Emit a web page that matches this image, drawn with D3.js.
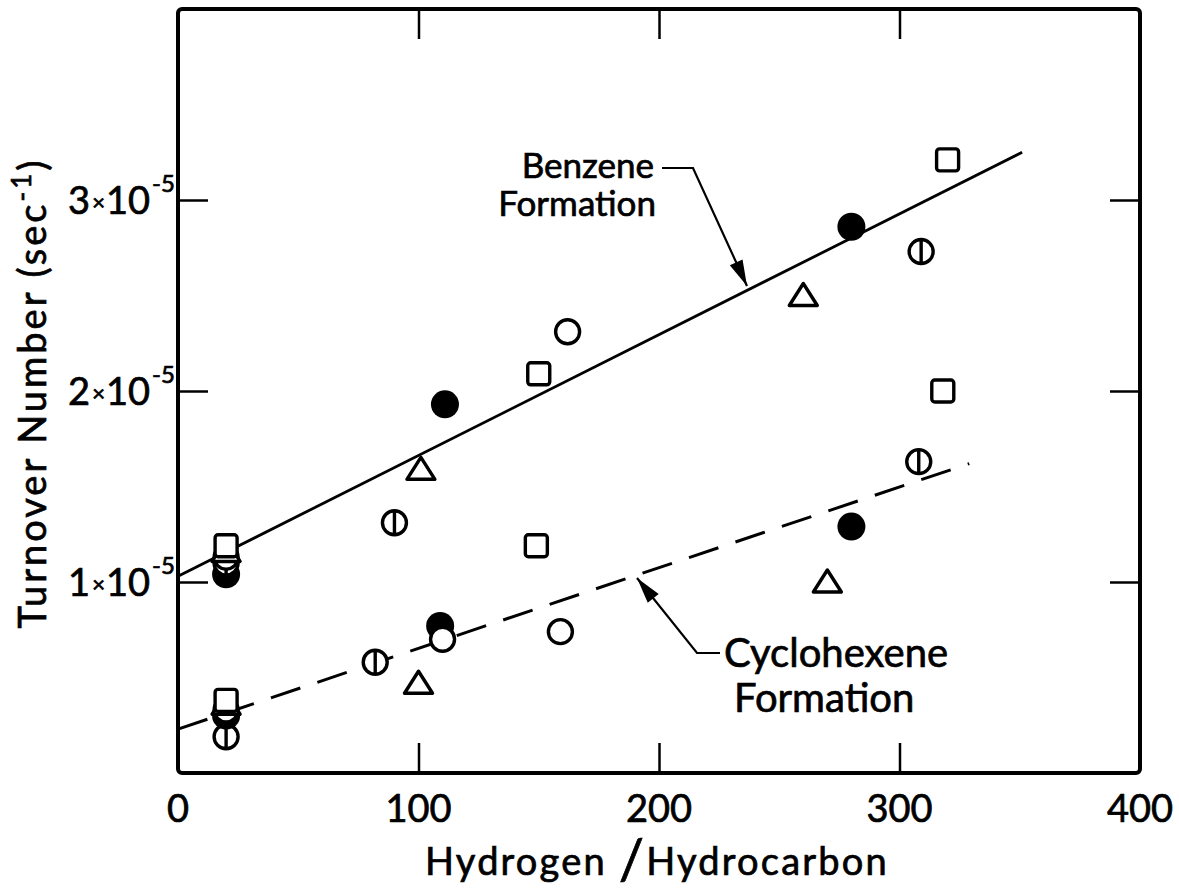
<!DOCTYPE html>
<html>
<head>
<meta charset="utf-8">
<script src="https://cdn.jsdelivr.net/npm/d3@7/dist/d3.min.js"></script>
<style>
  html, body { margin: 0; padding: 0; background: #fff; }
  svg { display: block; }
  text { font-family: "Lato", "DejaVu Sans", sans-serif; fill: #000; stroke: #000; stroke-width: 0.7px; }
</style>
</head>
<body>
<svg id="chart" width="1179" height="892"></svg>
<script>
// Turnover number (units of 1e-5 s^-1) versus hydrogen/hydrocarbon ratio.
// Each marker style is one data set; B = benzene formation, C = cyclohexene formation.
const filledCircleB = [[20, 1.04], [111, 1.93], [280, 2.86]];
const filledCircleC = [[20, 0.30], [109, 0.77], [280, 1.29]];
const openCircleB   = [[20, 1.13], [162, 2.31]];
const openCircleC   = [[20, 0.33], [110, 0.70], [159, 0.74]];
const barCircleB    = [[20, 1.10], [90, 1.31], [309, 2.73]];
const barCircleC    = [[20, 0.19], [82, 0.58], [308, 1.63]];
const squareB       = [[20, 1.19], [150, 2.09], [320, 3.21]];
const squareC       = [[20, 0.38], [149, 1.19], [318, 2.00]];
const triangleB     = [[20, 1.16], [101, 1.59], [260, 2.50]];
const triangleC     = [[20, 0.36], [100, 0.47], [270, 1.00]];

// Straight-line fits drawn through each product's data
const benzeneFit     = [[0, 1.03], [351, 3.25]];
const cyclohexeneFit = [[0, 0.23], [329, 1.62]];

const xTicks = [0, 100, 200, 300, 400];
const yTicks = [1, 2, 3];
const yTickMantissa = ["1", "2", "3"];

const svg = d3.select("#chart");
const x = d3.scaleLinear().domain([0, 400]).range([178, 1140]);
const y = d3.scaleLinear().domain([0, 4]).range([773, 9]);

const ink = "#000";

// Frame
svg.append("rect")
  .attr("x", x(0)).attr("y", y(4))
  .attr("width", x(400) - x(0)).attr("height", y(0) - y(4))
  .attr("rx", 4)
  .attr("fill", "none").attr("stroke", ink).attr("stroke-width", 4);

// Inward ticks on all four sides
const inner = [100, 200, 300];
const tickLen = 30;
function styleAxis(g) {
  g.select(".domain").remove();
  g.selectAll(".tick line").attr("stroke", ink).attr("stroke-width", 2.5);
  g.selectAll(".tick text").remove();
}
svg.append("g").attr("transform", `translate(0,${y(0)})`)
  .call(d3.axisBottom(x).tickValues(inner).tickSize(-tickLen)).call(styleAxis);
svg.append("g").attr("transform", `translate(0,${y(4)})`)
  .call(d3.axisTop(x).tickValues(inner).tickSize(-tickLen)).call(styleAxis);
svg.append("g").attr("transform", `translate(${x(0)},0)`)
  .call(d3.axisLeft(y).tickValues(yTicks).tickSize(-tickLen)).call(styleAxis);
svg.append("g").attr("transform", `translate(${x(400)},0)`)
  .call(d3.axisRight(y).tickValues(yTicks).tickSize(-tickLen)).call(styleAxis);

// X tick labels
svg.append("g").selectAll("text").data(xTicks).join("text")
  .attr("x", d => x(d)).attr("y", 822)
  .attr("text-anchor", "middle")
  .attr("font-size", 38)
  .text(d => d);

// Y tick labels: n x 10 with a raised -5 exponent
const yl = svg.append("g").selectAll("text").data(yTicks).join("text")
  .attr("x", 150).attr("y", d => y(d) + 14)
  .attr("text-anchor", "end")
  .attr("font-size", 38);
yl.append("tspan").text((d, i) => yTickMantissa[i]);
yl.append("tspan").attr("font-size", 22).attr("dx", 2).attr("dy", -4).text("×");
yl.append("tspan").attr("dy", 4).attr("dx", 1).text("10");
svg.append("g").selectAll("text").data(yTicks).join("text")
  .attr("x", 152).attr("y", d => y(d) - 8)
  .attr("font-size", 24)
  .text("-5");

// Axis titles
const yt = svg.append("text")
  .attr("transform", "translate(46,393) rotate(-90)")
  .attr("text-anchor", "middle")
  .attr("font-size", 38)
  .attr("letter-spacing", 3);
yt.append("tspan").text("Turnover Number (sec");
yt.append("tspan").attr("font-size", 26).attr("dy", -15).text("-1");
yt.append("tspan").attr("dy", 15).text(")");

const xt = svg.append("text")
  .attr("x", 657).attr("y", 875)
  .attr("text-anchor", "middle")
  .attr("font-size", 38)
  .attr("letter-spacing", 2.2);
xt.append("tspan").text("Hydrogen ");
xt.append("tspan").attr("font-size", 56).attr("dy", 4).text("/");
xt.append("tspan").attr("dy", -4).text("Hydrocarbon");

// Fitted lines
const line = d3.line().x(d => x(d[0])).y(d => y(d[1]));
svg.append("path").datum(benzeneFit).attr("d", line)
  .attr("fill", "none").attr("stroke", ink).attr("stroke-width", 2.8);
svg.append("path").datum(cyclohexeneFit).attr("d", line)
  .attr("fill", "none").attr("stroke", ink).attr("stroke-width", 3)
  .attr("stroke-dasharray", "31,18");

// Markers
const sw = 3.4;
function drawSet(data, kind) {
  const g = svg.append("g");
  data.forEach(([vx, vy]) => {
    const cx = x(vx), cy = y(vy);
    if (kind === "filled") {
      g.append("circle").attr("cx", cx).attr("cy", cy).attr("r", 14).attr("fill", ink);
    } else if (kind === "open" || kind === "bar") {
      g.append("circle").attr("cx", cx).attr("cy", cy).attr("r", 12)
        .attr("fill", "#fff").attr("stroke", ink).attr("stroke-width", sw);
      if (kind === "bar") {
        g.append("line").attr("x1", cx).attr("x2", cx)
          .attr("y1", cy - 12).attr("y2", cy + 12)
          .attr("stroke", ink).attr("stroke-width", sw);
      }
    } else if (kind === "square") {
      g.append("rect").attr("x", cx - 11).attr("y", cy - 11)
        .attr("width", 22).attr("height", 22).attr("rx", 3)
        .attr("fill", "#fff").attr("stroke", ink).attr("stroke-width", sw);
    } else if (kind === "triangle") {
      g.append("path")
        .attr("d", `M${cx},${cy - 12}L${cx + 14},${cy + 10}L${cx - 14},${cy + 10}Z`)
        .attr("fill", "#fff").attr("stroke", ink).attr("stroke-width", sw)
        .attr("stroke-linejoin", "round");
    }
  });
}
drawSet(barCircleC, "bar");
drawSet(filledCircleC, "filled");
drawSet(openCircleC, "open");
drawSet(triangleC, "triangle");
drawSet(squareC, "square");
drawSet(filledCircleB, "filled");
drawSet(barCircleB, "bar");
drawSet(openCircleB, "open");
drawSet(triangleB, "triangle");
drawSet(squareB, "square");

// Annotations with leader arrows
function arrow(points, tip) {
  svg.append("path").attr("d", d3.line()(points))
    .attr("fill", "none").attr("stroke", ink).attr("stroke-width", 2.2);
  const [p, q] = [points[points.length - 2], tip];
  const ang = Math.atan2(q[1] - p[1], q[0] - p[0]);
  const L = 26, W = 7;
  const bx = q[0] - L * Math.cos(ang), by = q[1] - L * Math.sin(ang);
  const nx = -Math.sin(ang) * W, ny = Math.cos(ang) * W;
  svg.append("path")
    .attr("d", `M${q[0]},${q[1]}L${bx + nx},${by + ny}L${bx - nx},${by - ny}Z`)
    .attr("fill", ink);
}

const lab1 = svg.append("text").attr("font-size", 35).attr("text-anchor", "end");
lab1.append("tspan").attr("x", 654).attr("y", 178).text("Benzene");
lab1.append("tspan").attr("x", 656).attr("y", 216).text("Formation");
arrow([[662, 168], [693, 168], [747, 286]], [747, 286]);

const lab2 = svg.append("text").attr("font-size", 40);
lab2.append("tspan").attr("x", 724).attr("y", 667).text("Cyclohexene");
lab2.append("tspan").attr("x", 734).attr("y", 712).text("Formation");
arrow([[720, 653], [697, 653], [637, 578]], [637, 578]);
</script>
</body>
</html>
